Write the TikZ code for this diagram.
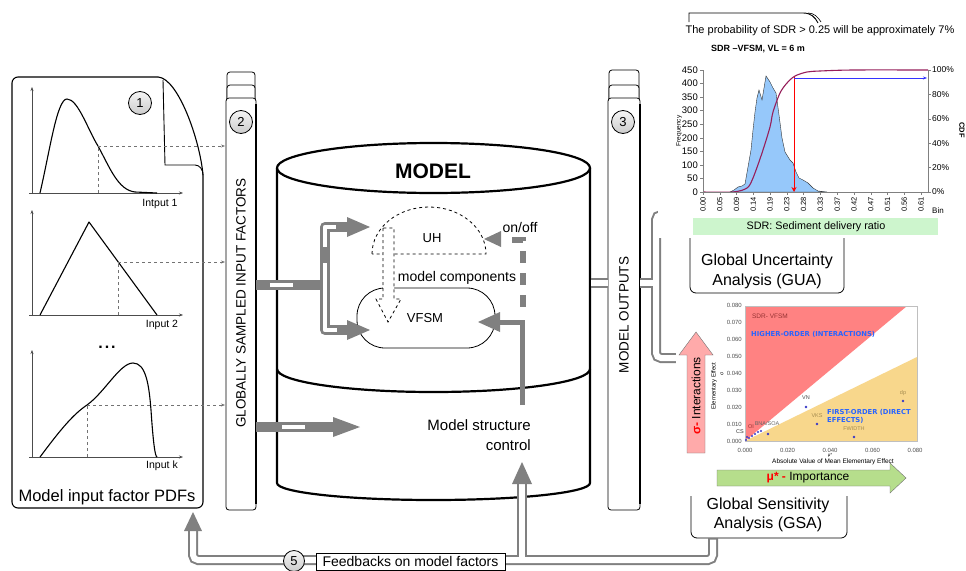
\documentclass[tikz,border=0pt]{standalone}
\usepackage{fontspec}
\setmainfont{Liberation Sans}
\newfontfamily\dvsans{DejaVu Sans}
\usetikzlibrary{arrows.meta}
\definecolor{pipegray}{RGB}{128,128,128}
\definecolor{histblue}{RGB}{150,200,250}
\definecolor{cdfpurple}{RGB}{150,30,90}
\definecolor{sdrgreen}{RGB}{205,245,205}
\definecolor{hiRed}{RGB}{255,130,130}
\definecolor{loYel}{RGB}{248,215,140}
\definecolor{sigPink}{RGB}{255,170,170}
\definecolor{muGreen}{RGB}{182,222,140}
\definecolor{ordBlue}{RGB}{40,100,255}
\definecolor{dRed}{RGB}{150,50,50}
\definecolor{oliveTxt}{RGB}{165,140,80}
\definecolor{tickGray}{RGB}{80,80,80}
\newcommand{\fsz}[2]{\fontsize{#1}{#2}\selectfont}
\tikzset{
  pdfaxis/.style={-{Stealth[length=4pt,width=3pt]}, line width=0.5pt, draw=black!70},
  pdfcurve/.style={line width=1.1pt},
  dashlink/.style={dashed, draw=black!55, line width=0.6pt},
  dasharrow/.style={dashlink, -{Stealth[length=4pt,width=3pt]}},
  numcirc/.style={circle, draw, line width=0.8pt, top color=gray!8, bottom color=gray!40, minimum size=23pt, inner sep=0pt, font=\fsz{13}{13}},
  pagebox/.style={draw, line width=0.8pt, rounded corners=3pt, fill=white},
  cylline/.style={line width=2.2pt},
  pipeout/.style={draw=pipegray, line width=10pt},
  pipein/.style={draw=white, line width=4.5pt},
  fbout/.style={draw=pipegray, line width=10pt, rounded corners=5pt},
  fbin/.style={draw=white, line width=6pt, rounded corners=5pt},
  headfill/.style={fill=pipegray},
  lbl/.style={inner sep=0pt},
  resbox/.style={line width=0.8pt, rounded corners=6pt},
  scpt/.style={fill=blue!55!gray},
  sclbl/.style={inner sep=0pt, font=\fsz{5.5}{6}},
}
\begin{document}
\begin{tikzpicture}[x=1pt,y=-1pt]
\useasboundingbox (0,0) rectangle (966,570);

% ================= left panel: PDFs
\draw[line width=1.1pt, rounded corners=6pt] (158,77) -- (12,77) -- (12,508) -- (203,508) -- (203,175);
\draw[line width=1.1pt] (158,77) .. controls (178,78) and (200,140) .. (203,175);
\draw[line width=0.9pt] (163,80) -- (165,165) -- (195,165) .. controls (200,165) and (203,170) .. (203,175);
\node[numcirc] (c1) at (140,103) {1};

% plot 1
\draw[pdfaxis] (32,194) -- (32,87);
\draw[pdfaxis] (29,193) -- (183,193);
\draw[pdfcurve] (40,193) .. controls (50,150) and (57,99) .. (67,99) .. controls (78,99) and (88,130) .. (98,146) .. controls (110,168) and (118,190) .. (135,192) -- (157,193);
\draw[dashlink] (98,193) -- (98,146);
\draw[dasharrow] (98,146) -- (225,146);
\node[lbl, font=\fsz{10.5}{12}] (in1) at (160,204) {Intput 1};

% plot 2
\draw[pdfaxis] (32,316) -- (32,210);
\draw[pdfaxis] (29,315) -- (183,315);
\draw[pdfcurve, line join=round] (40,315) -- (89,222) -- (157,315);
\draw[dashlink] (118,315) -- (118,262);
\draw[dasharrow] (118,262) -- (225,262);
\node[lbl, font=\fsz{10.5}{12}] (in2) at (162,325) {Input 2};

\node[lbl, font=\fsz{16}{16}\bfseries] (dots) at (107,347) {.\hspace{2pt}.\hspace{2pt}.};

% plot k
\draw[pdfaxis] (32,458) -- (32,350);
\draw[pdfaxis] (29,457) -- (183,457);
\draw[pdfcurve] (40,457) .. controls (58,433) and (72,415) .. (87,405) .. controls (105,392) and (120,363) .. (133,363) .. controls (146,363) and (149,385) .. (151,410) .. controls (153,440) and (155,457) .. (157,457);
\draw[dashlink] (87,457) -- (87,405);
\draw[dasharrow] (87,405) -- (225,405);
\node[lbl, font=\fsz{10.5}{12}] (ink) at (162,466) {Input k};

\node[lbl, font=\fsz{16.5}{18}] (pdfs) at (107,497) {Model input factor PDFs};

% ================= box 2
\draw[pagebox] (227,72) rectangle (255,115);
\draw[pagebox] (227,85) rectangle (255,115);
\draw[pagebox] (226,98) rectangle (256,510);
\draw[line width=1.8pt] (256,104) -- (256,504);
\node[numcirc] (c2) at (241,122) {2};
\node[rotate=90, lbl, font=\fsz{13.5}{14}] (gsif) at (241,303) {GLOBALLY SAMPLED INPUT FACTORS};

% ================= box 3
\draw[pagebox] (609,70) rectangle (639,115);
\draw[pagebox] (609,85) rectangle (639,115);
\draw[pagebox] (608,98) rectangle (640,510);
\draw[line width=1.8pt] (640,104) -- (640,504);
\node[numcirc] (c3) at (623,122) {3};
\node[rotate=90, lbl, font=\fsz{13.5}{14}] (mout) at (624,315) {MODEL OUTPUTS};

% ================= cylinder
\draw[cylline] (277,168) -- (277,483) .. controls (277,492.4) and (347.1,500) .. (433.5,500) .. controls (519.9,500) and (590,492.4) .. (590,483) -- (590,168);
\draw[cylline] (433.5,168) ellipse [x radius=156.5, y radius=25];
\draw[cylline] (277,369) .. controls (277,381.7) and (347.1,392) .. (433.5,392) .. controls (519.9,392) and (590,381.7) .. (590,369);
\node[lbl, font=\fsz{21}{22}\bfseries] (model) at (433,171) {MODEL};

% UH dashed dome
\draw[dashed, line width=0.8pt] (372,254) .. controls (372,228) and (397.5,207) .. (429,207) .. controls (460.5,207) and (486,228) .. (486,254) -- cycle;
\node[lbl, font=\fsz{13}{14}] (uh) at (432,238) {UH};

% VFSM
\draw[line width=0.8pt, rounded corners=28pt] (357,288) rectangle (495,348);
\node[lbl, font=\fsz{13}{14}] (vfsm) at (425,318) {VFSM};

% dashed hollow arrow
\draw[dashed, line width=0.8pt, fill=white] (383,228) -- (383,299) -- (376,299) -- (388,322) -- (401,299) -- (394,299) -- (394,228) -- cycle;
\node[lbl, font=\fsz{14}{14}] (mcomp) at (457,278) {model components};
\node[lbl, font=\fsz{14}{14}] (onoff) at (520,227) {on/off};

% on/off dashed gray
\draw[pipegray, line width=6pt, dash pattern=on 12pt off 10pt] (512,240) -- (523,240) -- (523,308);
\fill[headfill] (484,239) -- (501,231) -- (501,247) -- cycle;

% structure control arrow to VFSM
\draw[pipegray, line width=5pt] (522,405) -- (522,322) -- (500,322);
\fill[headfill] (478,322) -- (500,312) -- (500,332) -- cycle;

\node[lbl, align=right, anchor=east, font=\fsz{15}{20}] (msc) at (531,435) {Model structure\\control};

% input pipes from box 2
\draw[pipeout] (256,285) -- (325,285);
\draw[pipein] (270,285) -- (293,285);
\draw[pipeout, line join=round] (348,227) -- (325,227) -- (325,330) -- (348,330);
\draw[pipein, line join=round] (336,227) -- (325,227) -- (325,247);
\draw[pipein, line join=round] (325,263) -- (325,330) -- (337,330);
\fill[headfill] (370,227) -- (347,217) -- (347,237) -- cycle;
\fill[headfill] (370,330) -- (347,320) -- (347,340) -- cycle;

\draw[pipeout] (256,427) -- (334,427);
\draw[pipein] (282,427) -- (305,427);
\fill[headfill] (360,427) -- (333,417) -- (333,437) -- cycle;

% ================= pipes from model to outputs
\draw[fbout] (591,283) -- (608,283);
\draw[fbout] (640,283) -- (656,283);
\draw[fbout] (670,215) -- (656,215) -- (656,358) -- (681,358);
\draw[fbin] (591,283) -- (608,283);
\draw[fbin] (640,283) -- (656,283);
\draw[fbin] (670,215) -- (656,215) -- (656,358) -- (681,358);

% ================= result boxes
\draw[resbox] (690,225) -- (690,293) -- (844,293) -- (844,225);
\node[lbl, align=center, font=\fsz{16}{20}] (gua) at (767,271) {Global Uncertainty\\Analysis (GUA)};
\draw[resbox] (691,485) -- (691,538) -- (847,538) -- (847,485);
\node[lbl, align=center, font=\fsz{16}{19}] (gsa) at (768,515) {Global Sensitivity\\Analysis (GSA)};

% ================= feedback pipe
\draw[fbout] (713,538) -- (713,560) -- (193,560) -- (193,531);
\draw[fbout] (522,560) -- (522,484);
\draw[fbin] (713,539.5) -- (713,560) -- (193,560) -- (193,531);
\draw[fbin] (522,560) -- (522,484);
\fill[headfill] (193,512) -- (184,531) -- (202,531) -- cycle;
\fill[headfill] (522,462) -- (512,484) -- (532,484) -- cycle;
\node[numcirc, minimum size=21pt] (c5) at (294,561) {5};
\node[draw, line width=0.8pt, fill=white, minimum width=189pt, minimum height=17pt, inner sep=0pt, font=\fsz{14}{14}] (fb) at (410.5,561.5) {Feedbacks on model factors};

% ================= histogram chart
\fill[white] (658,38) rectangle (966,238);
\node[lbl, font=\fsz{11}{12}] (prob) at (820,31) {The probability of SDR > 0.25 will be approximately 7\%};
\draw[line width=0.9pt] (689,22) -- (689,13) -- (803,13) .. controls (811,13) and (815,17) .. (818,23);
\draw[line width=0.6pt] (808,13) .. controls (814,13) and (818,17) .. (821,22);
\node[lbl, font=\fsz{9}{10}\bfseries] (htitle) at (758,49) {SDR –VFSM, VL = 6 m};

\fill[histblue, draw=black!80, line width=0.4pt] (730,192) -- (734,190) -- (738,187) -- (742,186) -- (745,184) -- (748,167) -- (751,150) -- (753,130) -- (755,112) -- (757,98) -- (759,90) -- (762,100) -- (764,88) -- (766,76) -- (770,82) -- (773,88) -- (776,93) -- (779,115) -- (782,138) -- (785,152) -- (790,160) -- (793,163) -- (796,172) -- (799,178) -- (803,180) -- (808,183) -- (813,188) -- (818,191) -- (827,192) -- cycle;
\draw[cdfpurple, line width=1.1pt] plot[smooth, tension=0.5] coordinates {(703,192) (733,192) (747,188) (753,178) (762,153) (770,127) (773,112) (780,93) (787,83) (795,76) (807,72) (820,71) (853,70) (928,70)};

\draw[black!50, line width=0.5pt] (703,70) -- (703,192) -- (928,192) -- (928,70);
\foreach \val [count=\k from 0] in {0,50,100,150,200,250,300,350,400,450} {
  \draw[black!50, line width=0.4pt] (700,{192-\k*13.556}) -- (703,{192-\k*13.556});
  \node[lbl, anchor=east, font=\fsz{9.5}{10}] at (698,{192-\k*13.556}) {\val};
}
\foreach \val [count=\k from 0] in {0,20,40,60,80,100} {
  \draw[black!50, line width=0.4pt] (928,{192-\k*24.4}) -- (931,{192-\k*24.4});
  \node[lbl, anchor=west, font=\fsz{8.5}{9}] at (932,{192-\k*24.4}) {\val\%};
}
\foreach \val [count=\k from 0] in {0.00,0.05,0.09,0.14,0.19,0.23,0.28,0.33,0.37,0.42,0.47,0.51,0.56,0.61} {
  \draw[black!50, line width=0.4pt] ({703+\k*16.77},192) -- ({703+\k*16.77},195);
  \node[lbl, rotate=90, anchor=east, font=\fsz{7.5}{8}] at ({703+\k*16.77},197) {\val};
}
\node[lbl, font=\fsz{8}{9}] (bin) at (938,211) {Bin};
\node[lbl, rotate=90, font=\fsz{6.5}{7}] (freq) at (679,131) {Frequency};
\node[lbl, rotate=-90, font=\fsz{7.5}{8}\bfseries] (cdf) at (962,130) {CDF};
\draw[red, line width=1pt, -{Stealth[length=5pt,width=5pt]}] (794,77) -- (794,192);
\draw[blue!80, line width=0.8pt, -{Stealth[length=4pt,width=3pt]}] (794,78) -- (927,78);
\fill[sdrgreen] (693,218) rectangle (938,235);
\node[lbl, font=\fsz{10.8}{12}] (sdr) at (816,227) {SDR: Sediment delivery ratio};

% ================= sensitivity chart
\fill[white] (676,296) rectangle (925,496);
\fill[hiRed] (745,306) -- (907,306) -- (745,441) -- cycle;
\fill[loYel] (745,441) -- (917,357) -- (917,441) -- cycle;
\draw[black!25, line width=0.4pt] (745,306) rectangle (917,441);
\foreach \val [count=\k from 0] in {0.000,0.010,0.020,0.030,0.040,0.050,0.060,0.070,0.080} {
  \node[lbl, anchor=east, text=tickGray, font=\fsz{6}{6}] at (742,{441-\k*16.9}) {\val};
}
\foreach \val [count=\k from 0] in {0.000,0.020,0.040,0.060,0.080} {
  \node[lbl, text=tickGray, font=\fsz{6}{6}] at ({745+\k*42.5},450) {\val};
}
\node[lbl, font=\fsz{6.5}{7}] (xtitle) at (833,462) {Absolute Value of Mean Elementary Effect};
\node[lbl, font=\fsz{4.5}{5}] (mustar) at (830,455) {μ*};
\node[lbl, rotate=90, font=\fsz{6}{6}] (ytitle) at (714,386) {Elementary Effect};
\node[lbl, rotate=90, font=\fsz{5}{5}] (sig) at (722,374) {σ};
\node[lbl, text=dRed, font=\fsz{6.5}{7}] (sdrv) at (770,316) {SDR- VFSM};
\node[lbl, anchor=west, text=ordBlue, font=\fsz{6.8}{7}\dvsans\bfseries] (hio) at (751,334) {HIGHER-ORDER (INTERACTIONS)};
\node[lbl, anchor=north west, align=left, text=ordBlue, font=\fsz{6.8}{8.5}\dvsans\bfseries] (fio) at (827,409) {FIRST-ORDER (DIRECT\\EFFECTS)};
\fill[scpt] (806,407) circle (1.4);
\node[sclbl, text=black!70] (vn) at (806,398) {VN};
\fill[scpt] (903,401) circle (1.4);
\node[sclbl, text=oliveTxt] (dp) at (903,393) {dp};
\fill[scpt] (817,424) circle (1.4);
\node[sclbl, text=oliveTxt] (vks) at (817,416) {VKS};
\fill[scpt] (854,437) circle (1.4);
\node[sclbl, text=oliveTxt] (fw) at (854,429) {FWIDTH};
\fill[scpt] (768,434) circle (1.4);
\node[sclbl, text=black!60] (bna) at (767,424) {BNA/SOA};
\foreach \p in {(746,440),(749,438),(752,436),(755,434),(758,432),(761,431),(747,437)} { \fill[scpt] \p circle (1.2); }
\node[sclbl, text=dRed] (oi) at (751,427) {OI};
\node[sclbl, text=black!80] (cs) at (740,432) {CS};

% sigma arrow
\draw[fill=sigPink, draw=black!55, line width=0.4pt] (687,453) -- (687,355) -- (679,355) -- (696,332) -- (713,355) -- (705,355) -- (705,453) -- cycle;
\node[lbl, rotate=90, font=\fsz{12}{12}] (sigarr) at (696,396) {\textcolor{red}{\bfseries σ-} Interactions};
% mu arrow
\draw[fill=muGreen, draw=black!55, line width=0.4pt] (717,470) -- (890,470) -- (890,463) -- (906,478) -- (890,493) -- (890,486) -- (717,486) -- cycle;
\node[lbl, font=\fsz{12}{12}] (muarr) at (808,478) {\textcolor{red}{\bfseries μ* -} Importance};

\end{tikzpicture}
\end{document}
